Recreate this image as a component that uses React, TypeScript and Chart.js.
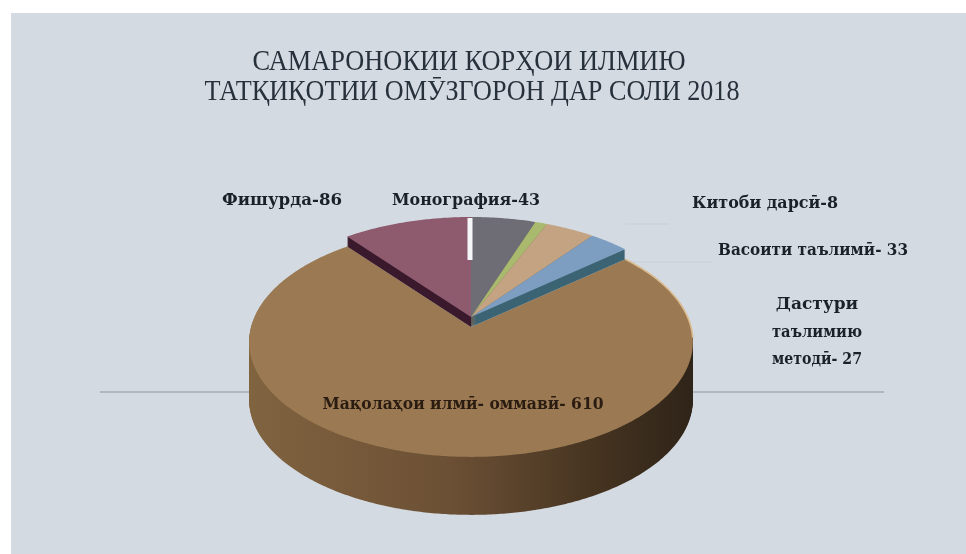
import React, { useEffect, useRef } from "react";
import { Chart, registerables } from "chart.js";

Chart.register(...registerables);

const categories = [
  "Монография",
  "Китоби дарсӣ",
  "Васоити таълимӣ",
  "Дастури таълимию методӣ",
  "Мақолаҳои илмӣ- оммавӣ",
  "Фишурда",
];
const values = [43, 8, 33, 27, 610, 86];
const faceColors = ["#6e6d76", "#a9ba6e", "#c3a381", "#7d9ec0", "#9b7a53", "#8d5a6e"];
const sideColors = ["#55555e", "#6f7a45", "#7f6a52", "#3c6474", "#6f5236", "#3a1a2c"];
const titleLines = ["САМАРОНОКИИ КОРҲОИ ИЛМИЮ", "ТАТҚИҚОТИИ ОМӮЗГОРОН ДАР СОЛИ 2018"];
const labelLines = [
  ["Монография-43"],
  ["Китоби дарсӣ-8"],
  ["Васоити таълимӣ- 33"],
  ["Дастури", "таълимию", "методӣ- 27"],
  ["Мақолаҳои илмӣ- оммавӣ- 610"],
  ["Фишурда-86"],
];

const W = 966;
const H = 554;
const labelPos = [
  [466, 201],
  [765, 204],
  [813, 251],
  [817, 305],
  [463, 405],
  [282, 201],
];
const labelWidth = [148, 146, 190, 0, 281, 120];
const BIG = 4;

// Perspective of the tilted pie plane
const CX = 471;
const CY = 327;
const RX = 220;
const RY = 113;
const PERSP = 0.13;
const LIFT = 10;
const DEPTH = 58;

function project(angle: number, r: number) {
  const u = Math.cos(angle) * r;
  const v = Math.sin(angle) * r;
  const s = 1 - PERSP * v;
  return [CX + (RX * u) / s, CY + (RY * v) / s];
}

function slicePath(ctx: CanvasRenderingContext2D, start: number, end: number, dy: number) {
  ctx.beginPath();
  ctx.moveTo(CX, CY + dy);
  const n = Math.max(4, Math.ceil((end - start) / 0.01));
  for (let i = 0; i <= n; i++) {
    const [x, y] = project(start + ((end - start) * i) / n, 1);
    ctx.lineTo(x, y + dy);
  }
  ctx.closePath();
}

const pie3d = {
  id: "pie3d",
  beforeDatasetsDraw(chart: any) {
    const ctx: CanvasRenderingContext2D = chart.ctx;
    const arcs = chart.getDatasetMeta(0).data;
    ctx.save();

    // panel
    ctx.fillStyle = "#ffffff";
    ctx.fillRect(0, 0, W, H);
    ctx.fillStyle = "#d3dae2";
    ctx.fillRect(11, 13, W - 11, H - 13);

    // horizontal rule and faint leader lines behind the pie
    ctx.strokeStyle = "#a3acb4";
    ctx.lineWidth = 1.6;
    ctx.beginPath();
    ctx.moveTo(100, 392);
    ctx.lineTo(884, 392);
    ctx.stroke();
    ctx.strokeStyle = "#c6ced6";
    ctx.lineWidth = 1;
    ctx.beginPath();
    ctx.moveTo(625, 224);
    ctx.lineTo(670, 224);
    ctx.moveTo(630, 262);
    ctx.lineTo(712, 262);
    ctx.stroke();

    // big slice: body, then face
    const big = arcs[BIG];
    const grad = ctx.createLinearGradient(250, 0, 693, 0);
    grad.addColorStop(0, "#80633f");
    grad.addColorStop(0.45, "#6c5035");
    grad.addColorStop(0.8, "#43321f");
    grad.addColorStop(1, "#2f2419");
    ctx.fillStyle = grad;
    for (let d = DEPTH; d > 0; d--) {
      slicePath(ctx, big.startAngle, big.endAngle, d);
      ctx.fill();
    }
    ctx.fillStyle = faceColors[BIG];
    slicePath(ctx, big.startAngle, big.endAngle, 0);
    ctx.fill();

    // pale rim on the upper right of the big slice
    ctx.strokeStyle = "#dcbb90";
    ctx.lineWidth = 1.6;
    ctx.beginPath();
    for (let a = big.startAngle; a < 0.1; a += 0.02) {
      const [x, y] = project(a, 1);
      if (a === big.startAngle) ctx.moveTo(x, y);
      else ctx.lineTo(x, y);
    }
    ctx.stroke();

    // small slices, raised a little
    arcs.forEach((arc: any, i: number) => {
      if (i === BIG) return;
      ctx.fillStyle = sideColors[i];
      for (let d = LIFT; d > 0; d--) {
        slicePath(ctx, arc.startAngle, arc.endAngle, d - LIFT);
        ctx.fill();
      }
    });
    arcs.forEach((arc: any, i: number) => {
      if (i === BIG) return;
      ctx.fillStyle = arc.options.backgroundColor;
      slicePath(ctx, arc.startAngle, arc.endAngle, -LIFT);
      ctx.fill();
    });

    // white notch between the last and the first slice
    ctx.strokeStyle = "#f4f6f8";
    ctx.lineWidth = 5;
    ctx.beginPath();
    ctx.moveTo(CX - 1, 218);
    ctx.lineTo(CX - 1, 260);
    ctx.stroke();

    // texts
    ctx.filter = "blur(0.7px)";
    ctx.textAlign = "center";
    ctx.textBaseline = "middle";
    ctx.fillStyle = "#27313c";
    ctx.font = '29px "Liberation Serif"';
    ctx.fillText(titleLines[0], 469, 62, 433);
    ctx.fillText(titleLines[1], 472, 92, 535);

    ctx.font = 'bold 17px "DejaVu Serif"';
    labelLines.forEach((lines, i) => {
      ctx.fillStyle = i === BIG ? "#2a1c10" : "#1a2229";
      lines.forEach((line, j) => {
        const w = labelWidth[i];
        if (w) ctx.fillText(line, labelPos[i][0], labelPos[i][1], w);
        else ctx.fillText(line, labelPos[i][0], labelPos[i][1] + j * 27.5, 90);
      });
    });
    ctx.restore();
    return false;
  },
};

export default function App() {
  const ref = useRef<HTMLCanvasElement>(null);
  useEffect(() => {
    document.body.style.margin = "0";
    const chart = new Chart(ref.current!, {
      type: "pie",
      data: {
        labels: categories,
        datasets: [{ data: values, backgroundColor: faceColors, borderWidth: 0 }],
      },
      options: {
        responsive: false,
        animation: false,
        plugins: { legend: { display: false }, title: { display: false }, tooltip: { enabled: false } },
      },
      plugins: [pie3d],
    });
    return () => chart.destroy();
  }, []);
  return <canvas ref={ref} width={W} height={H} style={{ display: "block" }} />;
}
